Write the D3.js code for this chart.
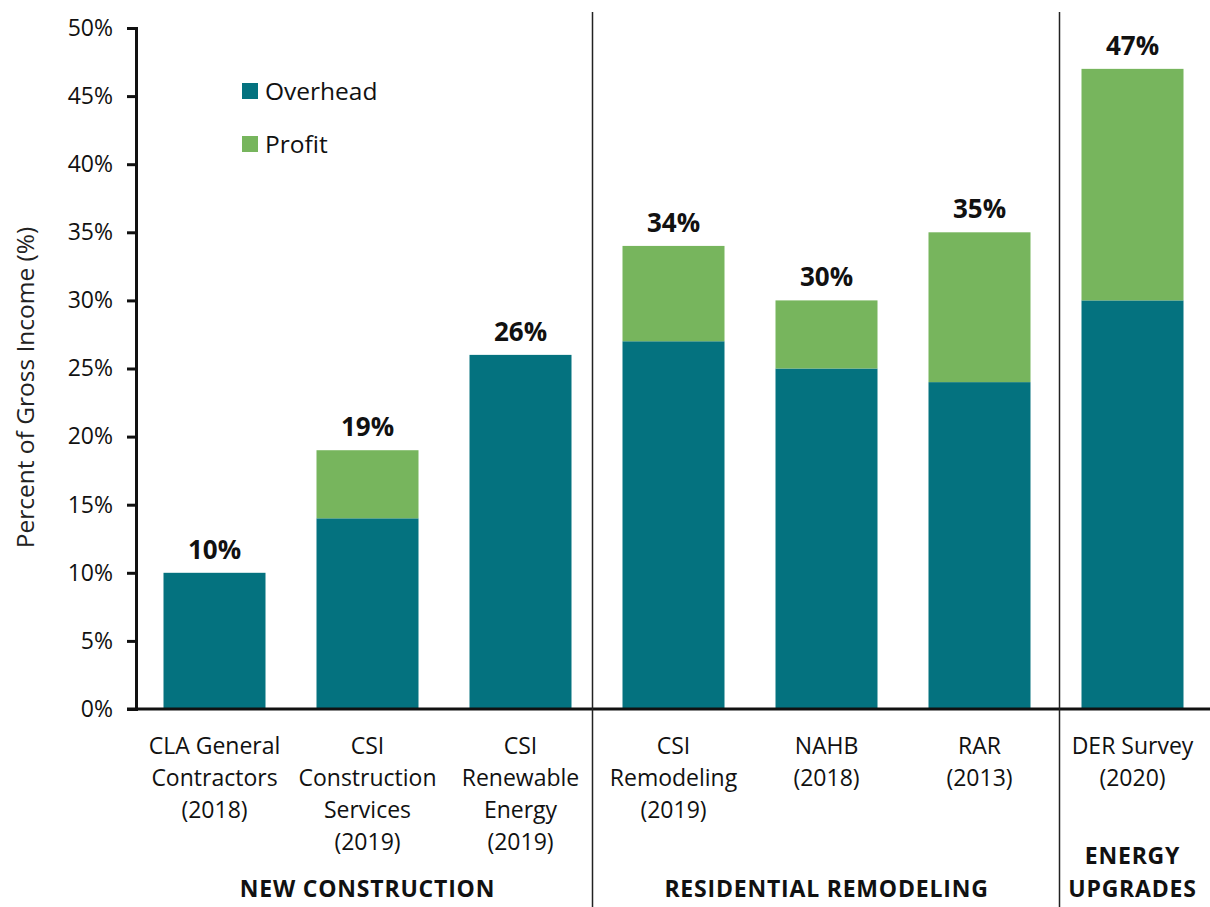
<!DOCTYPE html>
<html>
<head>
<meta charset="utf-8">
<script src="https://cdn.jsdelivr.net/npm/d3@7"></script>
<style>
  html, body { margin: 0; padding: 0; background: #fff; }
  svg { display: block; font-family: "Open Sans", "Noto Sans", sans-serif; }
</style>
</head>
<body>
<svg id="chart" width="1210" height="907"></svg>
<script>
// Survey sources, one bar each
const categories = [
  ["CLA General", "Contractors", "(2018)"],
  ["CSI", "Construction", "Services", "(2019)"],
  ["CSI", "Renewable", "Energy", "(2019)"],
  ["CSI", "Remodeling", "(2019)"],
  ["NAHB", "(2018)"],
  ["RAR", "(2013)"],
  ["DER Survey", "(2020)"]
];
const overhead = [10, 14, 26, 27, 25, 24, 30];
const profit   = [0, 5, 0, 7, 5, 11, 17];
const totals   = [10, 19, 26, 34, 30, 35, 47];

const seriesNames = ["Overhead", "Profit"];
const yTicks = [0, 5, 10, 15, 20, 25, 30, 35, 40, 45, 50];

// Sector groupings: label lines, first and last bar index
const groupLabels = [["NEW CONSTRUCTION"], ["RESIDENTIAL REMODELING"], ["ENERGY", "UPGRADES"]];
const groupStart = [0, 3, 6];
const groupEnd   = [2, 5, 6];

const colors = { Overhead: "#04727f", Profit: "#77b55d" };
const ink = "#111";

const svg = d3.select("#chart");
const keys = categories.map((c, i) => i);

const x = d3.scaleBand()
  .domain(keys)
  .range([138, 1209])
  .paddingInner(1 / 3)
  .paddingOuter(1 / 6);

const y = d3.scaleLinear().domain([0, 50]).range([709, 28]);

const rows = keys.map(i => ({ key: i, Overhead: overhead[i], Profit: profit[i] }));
const stacked = d3.stack().keys(seriesNames)(rows);

// Bars
svg.append("g")
  .selectAll("g")
  .data(stacked)
  .join("g")
  .attr("fill", d => colors[d.key])
  .selectAll("rect")
  .data(d => d.filter(s => s[1] > s[0]))
  .join("rect")
  .attr("x", d => x(d.data.key))
  .attr("width", x.bandwidth())
  .attr("y", d => y(d[1]))
  .attr("height", d => y(d[0]) - y(d[1]));

// Total value labels
svg.append("g")
  .selectAll("text")
  .data(keys)
  .join("text")
  .attr("x", i => x(i) + x.bandwidth() / 2)
  .attr("y", i => y(totals[i]) - 14)
  .attr("text-anchor", "middle")
  .attr("font-size", 26)
  .attr("font-weight", 700)
  .attr("fill", ink)
  .text(i => totals[i] + "%");

// Y axis
const yAxis = d3.axisLeft(y)
  .tickValues(yTicks)
  .tickFormat(d => d + "%")
  .tickSize(9)
  .tickPadding(14);

const gy = svg.append("g")
  .attr("transform", "translate(136,0)")
  .call(yAxis);
gy.select(".domain").attr("stroke", ink).attr("stroke-width", 3);
gy.selectAll(".tick line").attr("stroke", ink).attr("stroke-width", 3);
gy.selectAll(".tick text")
  .attr("font-size", 23)
  .attr("font-family", "\"Open Sans\", sans-serif")
  .attr("fill", ink);

// Baseline across the full width
svg.append("line")
  .attr("x1", 127).attr("x2", 1210)
  .attr("y1", y(0)).attr("y2", y(0))
  .attr("stroke", ink).attr("stroke-width", 3);

// Y axis title
svg.append("text")
  .attr("transform", `translate(34,${(y(0) + y(50)) / 2 + 19}) rotate(-90)`)
  .attr("text-anchor", "middle")
  .attr("font-size", 24.5)
  .attr("fill", "#222")
  .text("Percent of Gross Income (%)");

// Category labels (multi-line)
const cat = svg.append("g")
  .selectAll("text")
  .data(keys)
  .join("text")
  .attr("text-anchor", "middle")
  .attr("font-size", 23)
  .attr("fill", ink);
cat.selectAll("tspan")
  .data(i => categories[i].map(line => ({ i, line })))
  .join("tspan")
  .attr("x", d => x(d.i) + x.bandwidth() / 2)
  .attr("y", (d, k) => 754 + k * 32)
  .text(d => d.line);

// Group dividers sit in the gap before each group after the first
const dividerX = [x(groupStart[1]) - 30, x(groupStart[2]) - 22];
svg.append("g")
  .selectAll("line")
  .data(dividerX)
  .join("line")
  .attr("x1", d => d).attr("x2", d => d)
  .attr("y1", 12).attr("y2", 907)
  .attr("stroke", "#222").attr("stroke-width", 1.5);

// Group labels
const grp = svg.append("g")
  .selectAll("text")
  .data(groupLabels.map((g, k) => ({ g, k })))
  .join("text")
  .attr("text-anchor", "middle")
  .attr("font-size", 23)
  .attr("font-weight", 700)
  .attr("letter-spacing", 0.8)
  .attr("fill", ink);
grp.selectAll("tspan")
  .data(d => d.g.map((line, j) => ({ line, j, n: d.g.length, k: d.k })))
  .join("tspan")
  .attr("x", d => (x(groupStart[d.k]) + x(groupEnd[d.k]) + x.bandwidth()) / 2)
  .attr("y", d => 897 - (d.n - 1 - d.j) * 33)
  .text(d => d.line);

// Legend
const legend = svg.append("g").attr("transform", "translate(242,83)");
const li = legend.selectAll("g")
  .data(seriesNames)
  .join("g")
  .attr("transform", (d, k) => `translate(0,${k * 53})`);
li.append("rect")
  .attr("width", 16).attr("height", 16)
  .attr("fill", d => colors[d]);
li.append("text")
  .attr("x", 23).attr("y", 17)
  .attr("font-size", 24.5)
  .attr("fill", ink)
  .text(d => d);
</script>
</body>
</html>
